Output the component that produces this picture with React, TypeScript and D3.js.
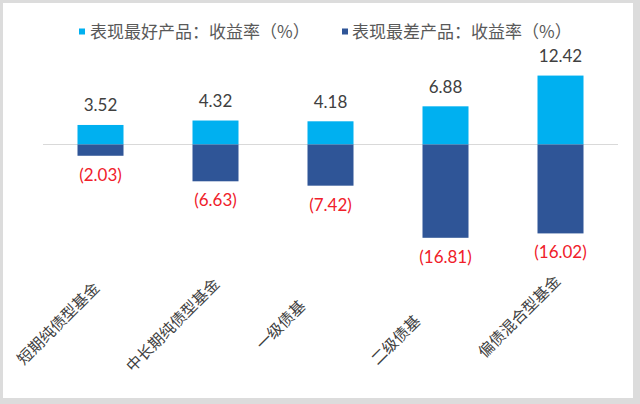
import React from "react";
import * as d3 from "d3";

const categories = ["短期纯债型基金", "中长期纯债型基金", "一级债基", "二级债基", "偏债混合型基金"];
const bestValues = [3.52, 4.32, 4.18, 6.88, 12.42];
const worstValues = [-2.03, -6.63, -7.42, -16.81, -16.02];
const seriesNames = ["表现最好产品：收益率（%）", "表现最差产品：收益率（%）"];
const yDomain = [-20, 15];

const W = 640;
const H = 404;
const COLOR_BEST = "#00b0f0";
const COLOR_WORST = "#2f5597";
// layout nudges for rotated category labels (as placed in the reference)
const labelDx = [0, 5, -24, -24, 1];
const labelDy = [4, 0, 22, 37, -3];

export default function App() {
  const x = d3.scaleBand<string>().domain(categories).range([43, 618]).paddingInner(0.6).paddingOuter(0.3);
  const y = d3.scaleLinear().domain(yDomain).range([144.5 + 20 * 5.55, 144.5 - 15 * 5.55]);
  const bw = x.bandwidth();
  const y0 = y(0);
  const numFont = "Lato, 'DejaVu Sans', sans-serif";
  const cjkFont = "'Noto Sans CJK SC', 'Noto Sans', sans-serif";
  const fmt = d3.format(".2f");

  return (
    <svg width={W} height={H} style={{ position: "absolute", left: 0, top: 0 }}>
      <rect x={0} y={0} width={W} height={H} fill="#dcdcdc" />
      <rect x={3} y={3} width={630} height={395} fill="#ffffff" />

      {/* legend */}
      <g fontFamily={cjkFont} fontSize={17} fill="#595959">
        <rect x={79} y={28.5} width={6} height={6} fill={COLOR_BEST} />
        <text x={90} y={38}>{seriesNames[0]}</text>
        <rect x={342} y={28.5} width={6} height={6} fill={COLOR_WORST} />
        <text x={352} y={38}>{seriesNames[1]}</text>
      </g>

      {/* zero line */}
      <line x1={43} x2={618} y1={y0} y2={y0} stroke="#d9d9d9" strokeWidth={1} />

      {categories.map((c, i) => {
        const bx = x(c)!;
        const cx = bx + bw / 2;
        const yb = y(bestValues[i]);
        const yw = y(worstValues[i]);
        return (
          <g key={c}>
            <rect x={bx} y={yb} width={bw} height={y0 - yb} fill={COLOR_BEST} />
            <rect x={bx} y={y0} width={bw} height={yw - y0} fill={COLOR_WORST} />
            <text x={cx} y={yb - 13.5} textAnchor="middle" fontFamily={numFont} fontSize={17} fill="#404040">
              {fmt(bestValues[i])}
            </text>
            <text x={cx} y={yw + 25} textAnchor="middle" fontFamily={numFont} fontSize={17} fill="#f0202a">
              {"(" + fmt(-worstValues[i]) + ")"}
            </text>
            <text
              transform={`translate(${cx + labelDx[i]},${285 + labelDy[i]}) rotate(-45)`}
              textAnchor="end"
              fontFamily={cjkFont}
              fontSize={15.5}
              fill="#404040"
            >
              {c}
            </text>
          </g>
        );
      })}
    </svg>
  );
}
